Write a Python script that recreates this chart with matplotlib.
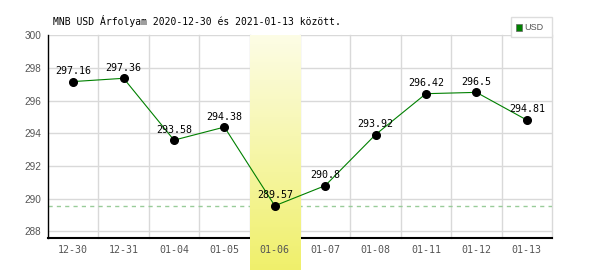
import matplotlib
matplotlib.use("Agg")
import matplotlib.pyplot as plt
import matplotlib.transforms as mtransforms
import numpy as np

categories = ["12-30", "12-31", "01-04", "01-05", "01-06", "01-07", "01-08", "01-11", "01-12", "01-13"]
values = [297.16, 297.36, 293.58, 294.38, 289.57, 290.8, 293.92, 296.42, 296.5, 294.81]
value_labels = ["297.16", "297.36", "293.58", "294.38", "289.57", "290.8", "293.92", "296.42", "296.5", "294.81"]
yticks = [288, 290, 292, 294, 296, 298, 300]
title = "MNB USD Árfolyam 2020-12-30 és 2021-01-13 között."
series_name = "USD"
highlight_index = 4

fig = plt.figure(figsize=(6, 2.7), dpi=100)
ax = fig.add_axes([0.08, 0.1185, 0.84, 0.7515])

x = np.arange(len(categories))
ax.set_xlim(-0.5, len(categories) - 0.5)
ax.set_ylim(287.6, 300)

ax.set_yticks(yticks)
ax.set_yticklabels([str(t) for t in yticks], fontfamily="Liberation Sans", fontsize=7.2, color="#555555")
ax.set_xticks(x)
ax.set_xticklabels(categories, fontfamily="DejaVu Sans Mono", fontsize=7.2, color="#555555")
ax.tick_params(axis="both", which="both", length=0)
ax.tick_params(axis="y", pad=5)
ax.tick_params(axis="x", pad=5)
ax.set_axisbelow(False)

# manual grid lines (under the highlight band)
for yt in yticks:
    ax.axhline(yt, color="#d9d9d9", linewidth=1, zorder=0.3)
for b in np.arange(len(categories)) + 0.5:
    ax.axvline(b, color="#d9d9d9", linewidth=1, zorder=0.3, clip_on=False)

for s in ["top", "right"]:
    ax.spines[s].set_visible(False)
ax.spines["left"].set_linewidth(1.0)
ax.spines["bottom"].set_linewidth(1.5)
ax.spines["bottom"].set_zorder(0.8)

# highlight band (gradient), extends to bottom of the figure
trans = mtransforms.blended_transform_factory(ax.transData, fig.transFigure)
top_c = np.array([0.99, 0.99, 0.90])
bot_c = np.array([0.94, 0.94, 0.42])
t = np.linspace(0, 1, 256)[:, None]
grad = (top_c[None, :] * (1 - t) + bot_c[None, :] * t)[:, None, :]
ax.imshow(grad, extent=(highlight_index - 0.5, highlight_index + 0.5, 0.0, 0.870),
          transform=trans, aspect="auto", origin="upper", zorder=1, clip_on=False,
          interpolation="bilinear")

# min dashed line
vmin = min(values)
ax.axhline(vmin, color="#99cc99", linewidth=1, linestyle=(0, (3, 3)), zorder=0.5)

# line and points
ax.plot(x, values, color="#008000", linewidth=0.8, zorder=3)
ax.plot(x, values, "o", color="black", markersize=5.5, zorder=4)

for xi, v, lab in zip(x, values, value_labels):
    ax.annotate(lab, (xi, v), xytext=(0, 4), textcoords="offset points",
                ha="center", va="bottom", fontfamily="DejaVu Sans Mono", fontsize=7.2,
                color="black", zorder=5)

ax.set_xlim(-0.5, len(categories) - 0.5)
ax.set_ylim(287.6, 300)

# title
fig.text(53 / 600, 1 - 21 / 270, title, fontfamily="DejaVu Sans Mono", fontsize=7,
         ha="left", va="center", color="black")

# legend box
lx0, ly0, lw, lh = 511 / 600, 1 - 37 / 270, 41 / 600, 20 / 270
rect = plt.Rectangle((lx0, ly0), lw, lh, transform=fig.transFigure, facecolor="white",
                     edgecolor="#dddddd", linewidth=1)
fig.patches.append(rect)
sq = plt.Rectangle((516 / 600, 1 - 30.5 / 270), 6 / 600, 6 / 270, transform=fig.transFigure,
                   facecolor="#008000", edgecolor="#666666", linewidth=0.5)
fig.patches.append(sq)
fig.text(524 / 600, 1 - 27.5 / 270, series_name, fontfamily="Liberation Sans", fontsize=6.5,
         color="#555555", ha="left", va="center")

fig.savefig("out.png", dpi=100)
